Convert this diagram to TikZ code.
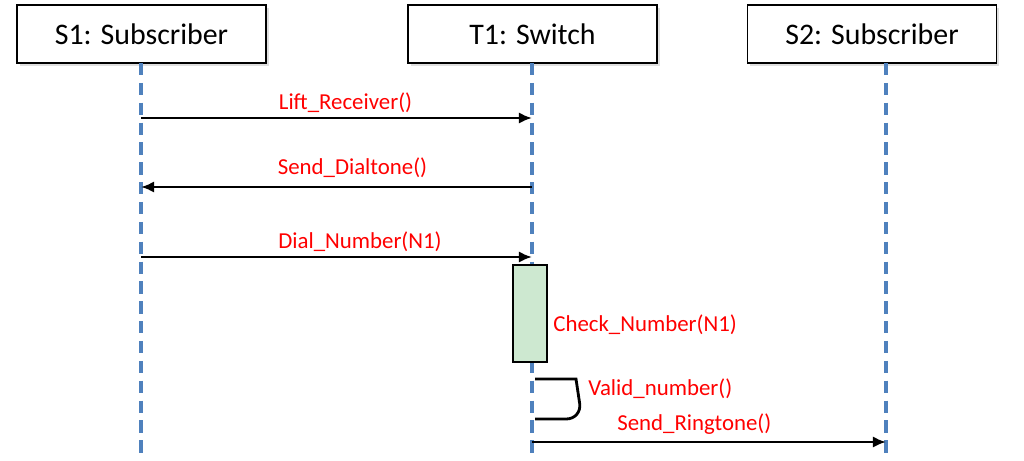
\documentclass[tikz,border=0pt]{standalone}
\usepackage{fontspec}
\setmainfont{Carlito}
\usetikzlibrary{arrows.meta}
\usetikzlibrary{shadows}
\tikzset{>={Latex[length=7.5pt,width=6.5pt]}}
\definecolor{lifeblue}{RGB}{79,129,189}
\definecolor{actgreen}{RGB}{205,232,208}

\begin{document}
\begin{tikzpicture}[x=0.02cm,y=-0.02cm,
	actor/.style={draw,line width=0.8pt,fill=white,minimum width=4.98cm,minimum height=1.16cm,
		font=\fontsize{17}{20}\selectfont,drop shadow={opacity=0.25,shadow xshift=1.5pt,shadow yshift=-1.5pt}},
	lifeline/.style={lifeblue,line width=2pt,dash pattern=on 7pt off 4.3pt},
	msg/.style={->,line width=1.6pt},
	lbl/.style={text=red,font=\fontsize{13}{15}\selectfont,inner sep=0pt}]
	\useasboundingbox (0,0) rectangle (1024,460);
	% objects
	\node[actor] (s1) at (141.5,34) {S1: Subscriber};
	\node[actor] (t1) at (532.5,34) {T1: Switch};
	\node[actor] (s2) at (872,34) {S2: Subscriber};
	% lifelines
	\coordinate (s1top) at (141,63);
	\coordinate (t1top) at (532,63);
	\coordinate (s2top) at (886,63);
	\coordinate (s1end) at (141,460);
	\coordinate (t1end) at (532,460);
	\coordinate (s2end) at (886,460);
	\draw[lifeline] (s1top)--(s1end);
	\draw[lifeline] (t1top)--(t1end);
	\draw[lifeline] (s2top)--(s2end);
	% messages
	\coordinate (lrA) at (141,118);
	\coordinate (lrB) at (532,118);
	\coordinate (sdA) at (532,187);
	\coordinate (sdB) at (141,187);
	\coordinate (dnA) at (141,257);
	\coordinate (dnB) at (532,257);
	\coordinate (srA) at (532,442);
	\coordinate (srB) at (886,442);
	\draw[msg] (lrA)--(lrB);
	\draw[msg] (sdA)--(sdB);
	\draw[msg] (dnA)--(dnB);
	\draw[msg] (srA)--(srB);
	\node[lbl] (lift) at (345.5,103) {Lift\_Receiver()};
	\node[lbl] (dial) at (352.5,168) {Send\_Dialtone()};
	\node[lbl] (num) at (360,242) {Dial\_Number(N1)};
	\node[lbl,anchor=west] (ring) at (617,424) {Send\_Ringtone()};
	% activation
	\node[draw,line width=0.6pt,fill=actgreen,minimum width=0.68cm,minimum height=1.94cm,inner sep=0pt] (chk) at (530,313.5) {};
	\node[lbl,anchor=west] (chklbl) at (553,325) {Check\_Number(N1)};
	% self call
	\coordinate (vnA) at (535,379);
	\coordinate (vnB) at (535,419);
	\draw[line width=1.6pt] (vnA)--(576,379) [rounded corners=9pt]--(582,419)--(vnB);
	\node[lbl,anchor=west] (valid) at (588,389) {Valid\_number()};
\end{tikzpicture}
\end{document}
